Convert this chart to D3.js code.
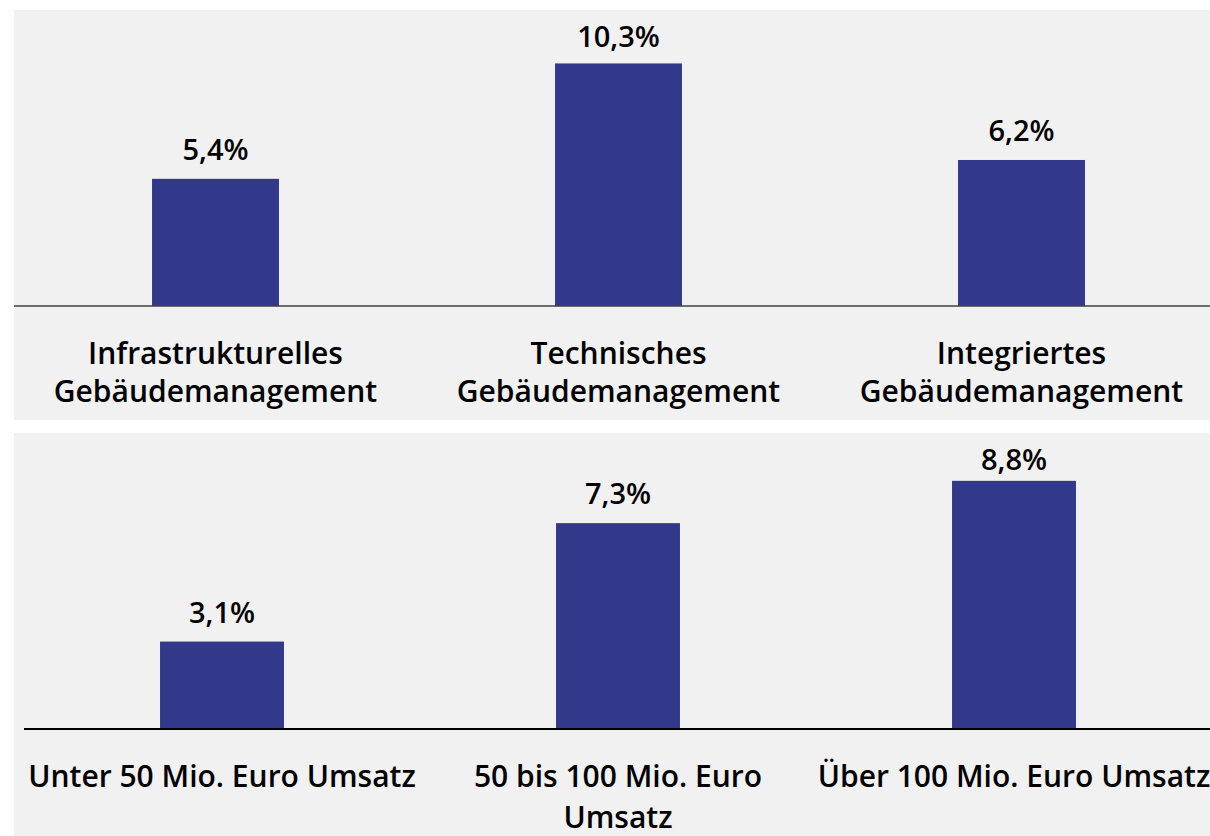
<!DOCTYPE html>
<html>
<head>
<meta charset="utf-8">
<script src="https://cdn.jsdelivr.net/npm/d3@7"></script>
<style>
  body { margin: 0; background: #ffffff; }
  svg { display: block; }
  text { font-family: "Open Sans", "Noto Sans", sans-serif; font-weight: 600; fill: #000; }
</style>
</head>
<body>
<div id="chart"></div>
<script>
// top panel: by service type
var segmentCats = ["Infrastrukturelles\nGebäudemanagement", "Technisches\nGebäudemanagement", "Integriertes\nGebäudemanagement"];
var segmentVals = [5.4, 10.3, 6.2];

// bottom panel: by company size
var sizeCats = ["Unter 50 Mio. Euro Umsatz", "50 bis 100 Mio. Euro\nUmsatz", "Über 100 Mio. Euro Umsatz"];
var sizeVals = [3.1, 7.3, 8.8];

var w = 1210, h = 836;
var barColor = "#32398b";

var svg = d3.select("#chart").append("svg")
  .attr("width", w)
  .attr("height", h);

function fmt(v) {
  return v.toFixed(1).replace(".", ",") + "%";
}

function drawPanel(cfg) {
  var g = svg.append("g");

  g.append("rect")
    .attr("x", cfg.left)
    .attr("y", cfg.top)
    .attr("width", w - cfg.left)
    .attr("height", cfg.bottom - cfg.top)
    .attr("fill", "#f1f1f1");

  var x = d3.scaleBand()
    .domain(cfg.cats)
    .range([cfg.x0, cfg.x1])
    .paddingInner(cfg.pad)
    .paddingOuter(cfg.pad / 2);

  var y = d3.scaleLinear()
    .domain([0, 10])
    .range([cfg.base, cfg.base - 10 * cfg.pxPer]);

  g.selectAll("rect.bar")
    .data(cfg.vals)
    .enter()
    .append("rect")
    .attr("class", "bar")
    .attr("x", function(d, i) { return x(cfg.cats[i]); })
    .attr("y", function(d) { return y(d); })
    .attr("width", x.bandwidth())
    .attr("height", function(d) { return y(0) - y(d); })
    .attr("fill", barColor);

  // baseline
  g.append("line")
    .attr("x1", cfg.lineX0)
    .attr("x2", w)
    .attr("y1", y(0))
    .attr("y2", y(0))
    .attr("stroke", cfg.lineColor)
    .attr("stroke-width", cfg.lineW);

  // value labels
  g.selectAll("text.val")
    .data(cfg.vals)
    .enter()
    .append("text")
    .attr("class", "val")
    .attr("x", function(d, i) { return x(cfg.cats[i]) + x.bandwidth() / 2; })
    .attr("y", function(d) { return Math.max(y(d) - 19, cfg.top + 37); })
    .attr("text-anchor", "middle")
    .style("font-size", "29px")
    .text(fmt);

  // category labels
  var labels = g.selectAll("text.cat")
    .data(cfg.cats)
    .enter()
    .append("text")
    .attr("class", "cat")
    .attr("text-anchor", "middle")
    .attr("x", function(d) { return x(d) + x.bandwidth() / 2; })
    .attr("y", cfg.labelY)
    .style("font-size", "30px");

  labels.each(function(d) {
    var t = d3.select(this);
    d.split("\n").forEach(function(line, k) {
      t.append("tspan")
        .attr("x", t.attr("x"))
        .attr("dy", k === 0 ? 0 : cfg.lineH)
        .text(line);
    });
  });
}

drawPanel({
  cats: segmentCats, vals: segmentVals,
  left: 14, top: 10, bottom: 420,
  x0: 14, x1: 1223, pad: 0.685,
  base: 306, pxPer: 23.55,
  lineX0: 14, lineColor: "#404040", lineW: 1.5,
  labelY: 364, lineH: 38
});

drawPanel({
  cats: sizeCats, vals: sizeVals,
  left: 14, top: 433, bottom: 836,
  x0: 24, x1: 1212, pad: 0.687,
  base: 729, pxPer: 28.2,
  lineX0: 24, lineColor: "#000000", lineW: 2,
  labelY: 787, lineH: 41
});
</script>
</body>
</html>
